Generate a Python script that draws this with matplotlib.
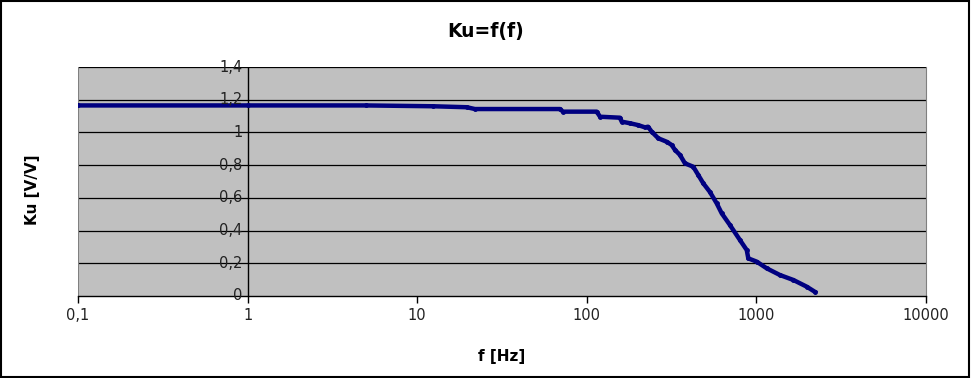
import numpy as np
import matplotlib.pyplot as plt
from matplotlib.ticker import FixedLocator, FixedFormatter, NullLocator

# frequency [Hz] and gain Ku [V/V]
freq = [0.1, 1, 5, 12.4, 19.6, 21.9, 69.5, 72.4, 114.4, 119.7, 157, 160.6,
        179.8, 200.4, 220.4, 229.6, 241.5, 264, 295.8, 316.7, 331, 354.5,
        379, 424.6, 454, 486, 532, 583, 624, 698, 800, 877, 896, 1004,
        1151, 1378, 1651, 1980, 2217]
ku = [1.165, 1.165, 1.165, 1.160, 1.154, 1.143, 1.143, 1.127, 1.127, 1.096,
      1.090, 1.066, 1.056, 1.045, 1.031, 1.035, 1.004, 0.964, 0.943, 0.923,
      0.893, 0.862, 0.811, 0.790, 0.740, 0.689, 0.636, 0.567, 0.506, 0.434,
      0.342, 0.281, 0.230, 0.210, 0.169, 0.128, 0.098, 0.057, 0.025]

xticks = [0.1, 1, 10, 100, 1000, 10000]
xlabels = ["0,1", "1", "10", "100", "1000", "10000"]
yticks = [0, 0.2, 0.4, 0.6, 0.8, 1.0, 1.2, 1.4]
ylabels = ["0", "0,2", "0,4", "0,6", "0,8", "1", "1,2", "1,4"]

fig = plt.figure(figsize=(9.71, 3.78), dpi=100)
ax = fig.add_axes([78/971, 1-296/378, 848/971, 229/378])
ax.set_facecolor("#C0C0C0")

ax.set_xscale("log")
ax.set_xlim(0.1, 10000)
ax.set_ylim(0, 1.4)

for y in yticks[1:]:
    ax.axhline(y, color="black", lw=0.9, zorder=1)

ax.plot(freq, ku, color="#000080", lw=3.2, marker="o", ms=2.5, zorder=3)

ax.xaxis.set_major_locator(FixedLocator(xticks))
ax.xaxis.set_major_formatter(FixedFormatter(xlabels))
ax.xaxis.set_minor_locator(NullLocator())
ax.tick_params(axis="x", direction="out", length=5, width=1, labelsize=10.5,
               pad=4, colors="black", labelcolor="#222222")

# y axis crosses at x=1
ax.spines["left"].set_visible(False)
ax.spines["right"].set_color("#808080")
ax.spines["top"].set_visible(False)
ax.spines["bottom"].set_linewidth(1.0)
ax.axvline(1, color="black", lw=1.0, zorder=2)
ax.axvline(0.1, color="#808080", lw=1.5, zorder=2)
ax.set_yticks([])
for y, lab in zip(yticks, ylabels):
    ax.text(0.93, y, lab, ha="right", va="center", fontsize=10.5,
            color="#222222", zorder=4)

ax.set_xlabel("f [Hz]", fontsize=11, fontweight="bold", labelpad=18)
fig.text(32/971, 1-190/378, "Ku [V/V]", rotation=90, ha="center", va="center",
         fontsize=11, fontweight="bold")
fig.text(0.5, 1-31/378, "Ku=f(f)", ha="center", va="center", fontsize=13.5,
         fontweight="bold")

border = plt.Rectangle((0.001, 0.003), 0.997, 0.995, transform=fig.transFigure,
                       fill=False, edgecolor="black", lw=1.5)
fig.patches.append(border)

fig.savefig("out.png", dpi=100)
